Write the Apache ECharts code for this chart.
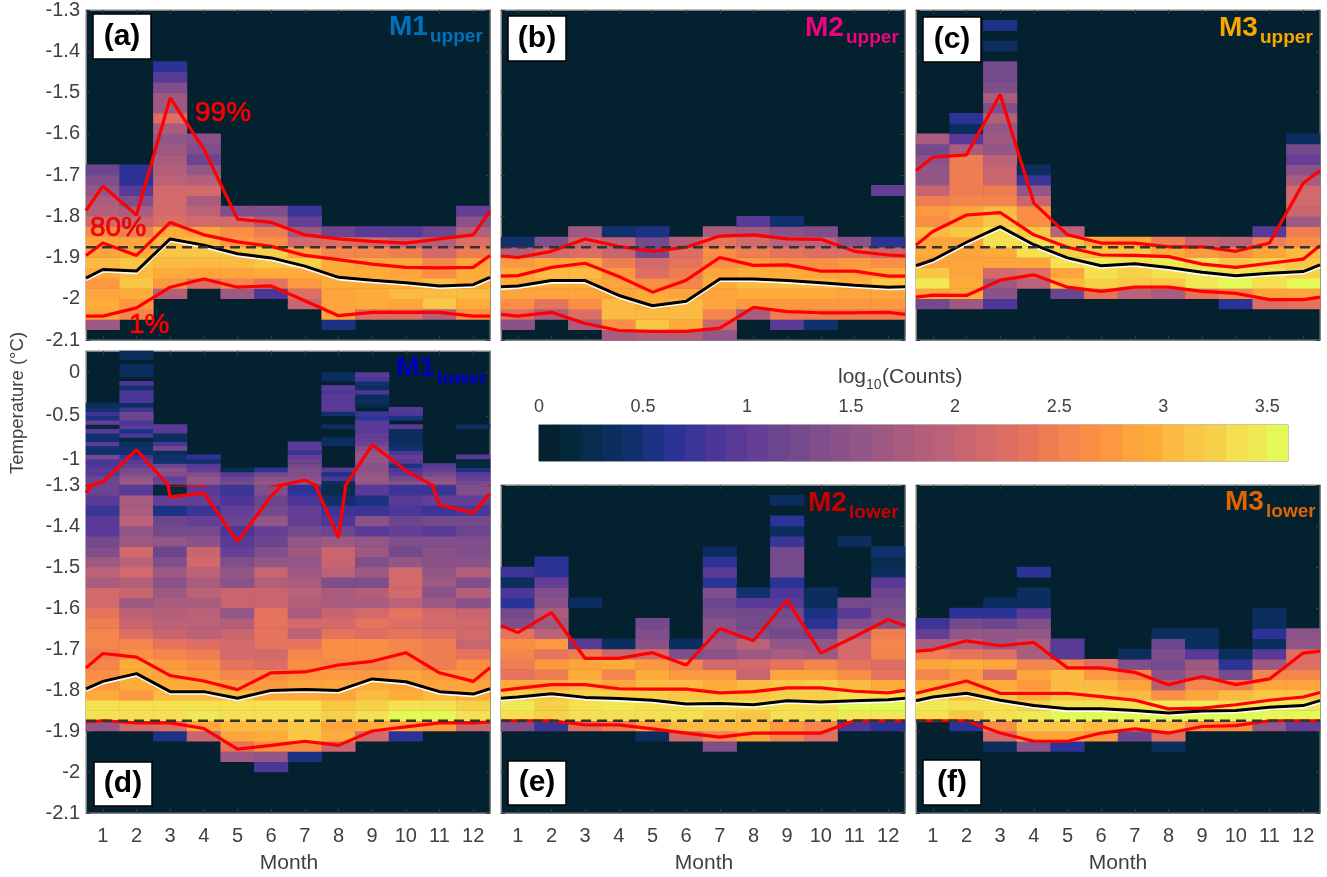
<!DOCTYPE html>
<html><head><meta charset="utf-8">
<style>html,body{margin:0;padding:0;background:#fff}#c{width:1327px;height:877px}</style>
<script src="https://cdn.jsdelivr.net/npm/echarts@6/dist/echarts.min.js"></script>
</head><body><div id="c"></div>
<script>
// ---------- axes / categories ----------
const months = [1,2,3,4,5,6,7,8,9,10,11,12];
const lineX = [0.5,1,2,3,4,5,6,7,8,9,10,11,12,12.5];
const tempTicks = [-2.1,-2,-1.9,-1.8,-1.7,-1.6,-1.5,-1.4,-1.3];
const brokenTicks = [-1,-0.5,0];
const cbarTicks = [0,0.5,1,1.5,2,2.5,3,3.5];
const freezingX = [0.5,12.5];
const freezingT = [-1.875,-1.875];
const cbarLevels = [0,1,2,3,4,5,6,7,8,9,10,11,12,13,14,15,16,17,18,19,20,21,22,23,24,25,26,27,28,29,30,31,32,33,34,35];
const palette = ['#03212F','#04283C','#072C4E','#0B2E5E','#10306E','#1B3382','#2C3396','#3B3595','#4C3799','#5A3A97','#653F95','#6C458F','#744A8D','#7F4E8B','#8A5289','#925687','#9E5983','#A95C7E','#B35F7A','#BC6278','#C8656F','#D26A6C','#DC6E64','#E6735C','#EE7D52','#F4854C','#F98E44','#FC9840','#FEA43C','#FDAC3A','#FBBA42','#F9C646','#F7D04A','#F4E050','#F1E856','#E4F858'];

// ---------- counts: log10(counts) in tenths, per month, bottom bin upward ----------
const aStart = [1,2,4,5,4,4,3,1,2,2,2,2];
const aCounts = [
 [16,28,29,28,27,29,30,28,28,26,21,18,17,15,13,11],
 [25,27,29,31,30,31,29,28,24,20,17,13,9,6,6],
 [18,27,29,30,31,30,29,22,21,21,21,19,18,17,16,15,17,22,16,16,13,9,6],
 [22,28,30,31,30,28,21,19,17,21,18,15,11,13,14],
 [16,25,28,30,31,27,26,21,13],
 [8,23,29,31,32,26,24,17,13],
 [20,22,27,29,32,28,21,16,10,7],
 [5,28,28,28,29,29,29,25,22,11],
 [22,29,29,29,29,28,25,21,9],
 [22,28,30,29,28,28,24,19,9],
 [18,31,30,30,26,25,21,18,11],
 [26,29,30,29,29,28,24,22,18,14,10]];
const bStart = [1,2,1,0,0,0,0,2,1,1,2,2];
const bCounts = [
 [14,22,26,28,29,29,27,18,4],
 [17,23,28,29,30,28,21,13],
 [17,22,26,28,29,30,28,22,20,16],
 [17,26,30,30,28,28,27,24,20,19,4],
 [18,31,30,29,29,26,22,21,12,12,5],
 [18,29,30,30,28,25,24,23,22,18],
 [15,20,25,28,28,29,28,26,26,23,17],
 [17,27,29,30,29,27,24,21,16,9],
 [9,24,27,29,30,29,26,23,19,14,4],
 [4,24,27,29,30,28,26,22,19,13],
 [24,27,28,29,28,27,22,14],
 [24,27,28,31,29,26,20,6,0,0,0,0,10]];
const cStart = [3,3,3,5,4,4,4,4,4,3,3,3];
const cCounts = [
 [12,28,34,31,28,29,28,30,26,27,24,20,15,15,14,12,17],
 [16,29,29,28,28,28,28,31,29,28,25,24,24,24,24,17,9,3,6],
 [8,14,16,21,28,29,33,33,31,30,25,24,20,20,19,15,16,15,18,13,17,13,12,12,0,3,0,5],
 [19,22,28,33,33,31,26,26,20,15,7,3],
 [11,30,28,33,32,31,19],
 [23,32,33,34,31,29],
 [19,31,32,33,31,28],
 [17,31,33,34,29,24],
 [23,34,34,33,27,20],
 [6,25,35,33,31,26,19],
 [22,28,33,33,32,28,24,9],
 [23,28,35,32,31,30,26,24,16,20,21,21,17,14,10,12,3]];
const dLowStart = [8,8,7,7,5,4,5,6,7,7,8,8];
const dLowCounts = [
 [15,33,33,29,27,26,25,24,25,25,24,23,21,21,17,19,16,13,12,9,9,7,9,11],
 [21,33,33,27,29,29,29,26,25,22,20,19,16,20,18,21,19,21,16,15,19,17,17,9],
 [5,22,33,33,30,29,28,27,25,23,20,19,18,17,16,14,16,13,11,15,12,11,5,10,1],
 [20,28,34,33,30,29,27,26,24,22,19,19,19,17,19,17,19,21,20,14,12,10,7,10,9],
 [16,23,28,30,33,33,30,27,25,23,21,21,20,18,15,20,20,14,15,13,10,9,8,11,10,8,7],
 [8,15,26,29,30,33,33,29,27,26,22,21,23,23,23,23,20,20,18,20,15,13,11,10,15,12,11,13],
 [5,26,31,31,33,33,29,28,27,26,25,23,19,21,17,18,19,17,16,15,16,15,12,10,10,8,6],
 [20,29,28,32,31,28,28,27,25,26,26,23,21,20,17,17,13,19,20,20,16,11,8,7,4,2],
 [21,29,33,32,30,29,27,25,26,26,22,23,21,17,18,13,16,13,16,15,9,14,7,5,9],
 [6,28,35,33,29,28,28,26,25,25,23,22,23,19,21,21,21,15,12,13,10,11,8,9,7],
 [27,35,33,30,28,27,24,24,24,22,21,21,16,14,16,15,14,14,13,9,12,7,10,7],
 [20,33,32,29,28,27,26,23,20,21,21,20,14,18,13,18,14,13,13,11,12,8,10,13]];
const dTopStart = [0,0,0,0,0,0,0,0,0,0,0,0];
const dTopCounts = [
 [11,11,9,9,8,8,12,4,4,9,4,4,9,1,10,5,7,4,3],
 [16,15,13,12,10,9,7,4,4,3,1,8,5,9,8,11,11,7,3,8,8,8,4,8,0,3,3,3,0,3,3],
 [11,10,13,14,11,4,4,3,12,8,3,3,9,9],
 [15,15,13,10,9,4,6],
 [12,11,9,2],
 [15,14,12,6],
 [15,14,13,13,12,11,10,7,9,9],
 [3,8,5,9,0,0,0,0,0,3,3,0,0,3,0,0,4,9,9,9,9,8,9,0,3,3],
 [15,16,15,14,14,15,15,15,13,11,10,10,9,9,9,6,7,0,2,3,3,8,3,4,8,9],
 [14,12,9,8,5,9,10,8,4,3,3,3,3,9,0,5,8,9],
 [15,14,12,10,9],
 [12,10,9,5,1,1,9,0,0,0,0,0,0,3]];
const eStart = [8,8,8,8,7,7,6,7,7,7,8,8];
const eCounts = [
 [13,33,34,32,29,23,24,25,26,23,13,12,6,8,3,7],
 [7,32,32,31,29,24,27,23,27,19,16,17,14,13,10,6,6],
 [22,33,33,32,30,29,28,24,9,0,0,0,3],
 [24,33,34,32,28,25,29,20,3],
 [3,28,33,33,32,30,29,27,21,14,13,12],
 [21,30,33,33,31,30,27,25,13,3],
 [13,25,30,32,33,31,29,27,21,14,16,14,14,12,11,13,6,9,6,3],
 [28,30,31,33,31,30,20,21,16,19,13,12,12,9,4],
 [25,27,33,33,32,31,28,23,17,15,12,13,12,9,8,6,12,12,12,7,3,6,0,3],
 [22,25,33,33,32,32,28,25,16,15,11,6,5,3,3],
 [8,34,35,33,30,26,23,21,21,18,13,9,12,0,0,0,0,0,3],
 [6,34,35,33,29,23,22,25,25,24,14,13,12,11,9,3,2,4]];
const fStart = [9,8,6,6,6,7,7,6,8,8,8,8];
const fCounts = [
 [33,34,32,29,25,28,24,17,10,7],
 [6,31,33,30,29,27,29,23,18,15,12,6],
 [3,21,26,33,33,31,29,22,28,22,15,15,11,6,3],
 [14,28,31,34,32,29,27,28,25,17,17,15,13,9,3,3,0,6],
 [6,28,31,35,33,31,30,30,25,9,9],
 [27,30,35,33,31,30,27,22],
 [11,31,35,33,30,28,25,13,3],
 [3,22,30,35,34,26,18,14,12,13,11,3],
 [26,35,34,28,25,17,16,9,3,3],
 [26,35,33,30,24,12,6,3],
 [15,35,34,31,28,25,16,9,3,6,3,3],
 [10,35,34,31,28,25,22,22,15,14]];

// ---------- percentile curves (°C) at lineX ----------
const a99 = [-1.786,-1.727,-1.797,-1.513,-1.637,-1.807,-1.815,-1.845,-1.855,-1.861,-1.865,-1.855,-1.845,-1.788];
const a80 = [-1.895,-1.865,-1.895,-1.815,-1.845,-1.862,-1.873,-1.895,-1.905,-1.916,-1.924,-1.925,-1.924,-1.895];
const a50 = [-1.950,-1.929,-1.933,-1.855,-1.870,-1.891,-1.901,-1.921,-1.948,-1.955,-1.961,-1.969,-1.966,-1.948];
const a01 = [-2.042,-2.042,-2.022,-1.972,-1.952,-1.972,-1.969,-2.005,-2.041,-2.033,-2.033,-2.033,-2.042,-2.042];
const b99 = [-1.896,-1.900,-1.885,-1.855,-1.873,-1.885,-1.875,-1.848,-1.845,-1.855,-1.856,-1.885,-1.894,-1.896];
const b80 = [-1.945,-1.944,-1.924,-1.914,-1.946,-1.984,-1.955,-1.900,-1.919,-1.918,-1.933,-1.933,-1.945,-1.945];
const b50 = [-1.971,-1.969,-1.956,-1.956,-1.992,-2.017,-2.006,-1.952,-1.952,-1.956,-1.961,-1.967,-1.972,-1.971];
const b01 = [-2.038,-2.042,-2.033,-2.060,-2.077,-2.079,-2.079,-2.071,-2.021,-2.031,-2.034,-2.034,-2.033,-2.038];
const c99 = [-1.689,-1.657,-1.651,-1.505,-1.768,-1.845,-1.865,-1.865,-1.874,-1.874,-1.885,-1.865,-1.720,-1.689];
const c80 = [-1.870,-1.837,-1.797,-1.791,-1.845,-1.875,-1.894,-1.895,-1.898,-1.916,-1.924,-1.914,-1.904,-1.871];
const c50 = [-1.920,-1.906,-1.863,-1.825,-1.869,-1.901,-1.920,-1.915,-1.924,-1.936,-1.944,-1.938,-1.934,-1.918];
const c01 = [-1.996,-1.991,-1.992,-1.955,-1.942,-1.972,-1.982,-1.972,-1.972,-1.982,-1.987,-2.002,-2.002,-1.996];
const d99 = [-1.319,-1.264,-0.894,-1.329,-1.319,-1.438,-1.327,-1.244,-1.428,-0.835,-1.133,-1.348,-1.368,-1.321];
const d80 = [-1.746,-1.711,-1.720,-1.765,-1.778,-1.799,-1.758,-1.756,-1.739,-1.730,-1.709,-1.758,-1.779,-1.746];
const d50 = [-1.797,-1.779,-1.760,-1.804,-1.804,-1.820,-1.801,-1.799,-1.801,-1.773,-1.780,-1.804,-1.810,-1.797];
const d01 = [-1.878,-1.875,-1.880,-1.880,-1.894,-1.944,-1.935,-1.925,-1.935,-1.900,-1.890,-1.880,-1.880,-1.878];
const e99 = [-1.643,-1.660,-1.611,-1.723,-1.723,-1.709,-1.739,-1.650,-1.680,-1.581,-1.710,-1.670,-1.628,-1.643];
const e80 = [-1.801,-1.796,-1.787,-1.787,-1.797,-1.798,-1.798,-1.807,-1.804,-1.795,-1.795,-1.803,-1.807,-1.801];
const e50 = [-1.820,-1.817,-1.809,-1.818,-1.821,-1.825,-1.834,-1.833,-1.836,-1.826,-1.829,-1.826,-1.824,-1.820];
const e01 = [-1.875,-1.875,-1.875,-1.885,-1.885,-1.895,-1.905,-1.915,-1.905,-1.905,-1.905,-1.875,-1.875,-1.875];
const f99 = [-1.705,-1.702,-1.680,-1.692,-1.684,-1.746,-1.746,-1.757,-1.787,-1.767,-1.787,-1.773,-1.710,-1.705];
const f80 = [-1.808,-1.798,-1.778,-1.808,-1.808,-1.808,-1.816,-1.825,-1.846,-1.844,-1.836,-1.825,-1.817,-1.806];
const f50 = [-1.826,-1.817,-1.808,-1.825,-1.838,-1.846,-1.846,-1.850,-1.856,-1.851,-1.850,-1.842,-1.838,-1.826];
const f01 = [-1.875,-1.875,-1.875,-1.905,-1.925,-1.925,-1.905,-1.895,-1.905,-1.889,-1.887,-1.875,-1.875,-1.875];

// ---------- build ----------
const FONT = '"Liberation Sans", Arial, sans-serif';
const TXT = '#404040', BG = palette[0];
const grid = [], xAxis = [], yAxis = [], series = [], heatIdx = [];

function addPanel(p) {
  const gi = grid.length;
  grid.push({left:p.l, top:p.t, width:p.w, height:p.h, show:true, backgroundColor:BG, borderColor:'#808080', borderWidth:1, containLabel:false});
  const bx = xAxis.length, by = yAxis.length;
  const tick = {inside:true, length:4, lineStyle:{color:'#3a3a3a', width:1}};
  const line = {show:true, onZero:false, lineStyle:{color:'#808080', width:1}};
  xAxis.push({type:'category', gridIndex:gi, show:false, position:'bottom', data:months});
  xAxis.push({type:'value', gridIndex:gi, position:'bottom', min:0.5, max:12.5, splitLine:{show:false},
    axisLine:p.xLine||line,
    axisTick:{...tick, customValues:months},
    axisLabel:{show:!!p.xLabels, customValues:months, margin:13, fontFamily:FONT, fontSize:20, color:TXT, formatter:v=>String(v)}});
  xAxis.push({type:'value', gridIndex:gi, position:'top', min:0.5, max:12.5, splitLine:{show:false},
    axisLine:p.topLine||line, axisTick:{...tick, customValues:months}, axisLabel:{show:false}});
  const nBins = Math.round((p.ymax-p.ymin)/p.bin);
  yAxis.push({type:'category', gridIndex:gi, show:false, position:'left', data:Array.from({length:nBins},(_,i)=>i)});
  yAxis.push({type:'value', gridIndex:gi, position:'left', min:p.ymin, max:p.ymax, splitLine:{show:false},
    axisLine:line, axisTick:{...tick, customValues:p.ticks},
    axisLabel:{show:!!p.yLabels, customValues:p.labels||p.ticks, margin:6, fontFamily:FONT, fontSize:20, color:TXT, formatter:v=>String(v)}});
  yAxis.push({type:'value', gridIndex:gi, position:'right', min:p.ymin, max:p.ymax, splitLine:{show:false},
    axisLine:line, axisTick:{...tick, customValues:p.ticks}, axisLabel:{show:false}});
  const cells = [];
  p.counts.forEach((col,m)=>col.forEach((v,k)=>{ if (v>0) cells.push([m, p.start[m]+k, v/10]); }));
  heatIdx.push(series.length);
  series.push({type:'heatmap', xAxisIndex:bx, yAxisIndex:by, data:cells, progressive:0, silent:true});
  const ln = (arr, style) => series.push({type:'line', xAxisIndex:bx+1, yAxisIndex:by+1, symbol:'none', clip:true, silent:true,
    data:lineX.map((x,i)=>[x,arr[i]]), lineStyle:style});
  const red = {color:'#FF0000', width:3.2};
  ln(p.q99, red);
  if (p.q80) ln(p.q80, red);
  if (p.q50) ln(p.q50, {color:'#000', width:3, shadowColor:'#ffffff', shadowBlur:0, shadowOffsetY:1.6});
  if (p.q01) ln(p.q01, red);
  if (p.dash) series.push({type:'line', xAxisIndex:bx+1, yAxisIndex:by+1, symbol:'none', silent:true,
    data:freezingX.map((x,i)=>[x,freezingT[i]]), lineStyle:{color:'#333', width:2.6, type:[10,6]}});
}
const L = [86,501,916], W = 404, TH = 330;
const lower = {ymin:-2.1, ymax:-1.3, bin:0.025, ticks:tempTicks, dash:true};
addPanel({...lower, l:L[0], t:10, w:W, h:TH, yLabels:true, start:aStart, counts:aCounts, q99:a99, q80:a80, q50:a50, q01:a01});
addPanel({...lower, l:L[1], t:10, w:W, h:TH, start:bStart, counts:bCounts, q99:b99, q80:b80, q50:b50, q01:b01});
addPanel({...lower, l:L[2], t:10, w:W, h:TH, start:cStart, counts:cCounts, q99:c99, q80:c80, q50:c50, q01:c01});
addPanel({l:L[0], t:351, w:W, h:134, ymin:-1.3, ymax:0.25, bin:0.05, ticks:brokenTicks, yLabels:true,
  xLine:{show:true, onZero:false, lineStyle:{color:'#333', width:1}}, start:dTopStart, counts:dTopCounts, q99:d99});
addPanel({...lower, l:L[0], t:485, w:W, h:328, yLabels:true, xLabels:true, start:dLowStart, counts:dLowCounts, q99:d99, q80:d80, q50:d50, q01:d01,
  topLine:{show:true, onZero:false, lineStyle:{color:'#333', width:1}}});
addPanel({...lower, l:L[1], t:485, w:W, h:328, xLabels:true, start:eStart, counts:eCounts, q99:e99, q80:e80, q50:e50, q01:e01});
addPanel({...lower, l:L[2], t:485, w:W, h:328, xLabels:true, start:fStart, counts:fCounts, q99:f99, q80:f80, q50:f50, q01:f01});

// colour bar
{
  const gi = grid.length;
  grid.push({left:539, top:425, width:749, height:36, show:true, backgroundColor:BG, borderColor:'#808080', borderWidth:1});
  const bx = xAxis.length, by = yAxis.length;
  xAxis.push({type:'category', gridIndex:gi, show:false, position:'bottom', data:cbarLevels});
  yAxis.push({type:'category', gridIndex:gi, show:false, data:['c']});
  xAxis.push({type:'value', gridIndex:gi, position:'top', min:0, max:3.6, splitLine:{show:false},
    axisLine:{show:true, lineStyle:{color:'#808080'}},
    axisTick:{inside:true, length:7, customValues:cbarTicks, lineStyle:{color:'#333'}},
    axisLabel:{customValues:cbarTicks, margin:9, fontFamily:FONT, fontSize:18, color:TXT, formatter:v=>String(v)}});
  heatIdx.push(series.length);
  series.push({type:'heatmap', xAxisIndex:bx, yAxisIndex:by, silent:true, data:cbarLevels.map(l=>[l,0,l/10])});
}

// text overlays
const T = (text,x,y,fill,font,extra) => ({type:'text', z:50, x, y, ...(extra||{}),
  style:{text, fill, font, textAlign:(extra&&extra.al)||'left', textVerticalAlign:'middle', align:(extra&&extra.al)||'left', verticalAlign:'middle',
    stroke:(extra&&extra.sk)||undefined, lineWidth:(extra&&extra.sk)?0.7:0}});
const box = (label,x0,y0,x1,y1) => [
  {type:'rect', z:49, shape:{x:x0,y:y0,width:x1-x0,height:y1-y0}, style:{fill:'#fff', stroke:'#000', lineWidth:1.5}},
  T(label,(x0+x1)/2,(y0+y1)/2,'#000','bold 30px '+FONT,{al:'center'})];
const tag = (big,sub,x,y,xs,ys,col) => [
  T(big,x,y,col,'bold 28px '+FONT), T(sub,xs,ys,col,'bold 19px '+FONT)];
const REG = n => n+'px '+FONT;
const graphic = [
  ...box('(a)',93,14,151,59), ...box('(b)',508,16,566,61), ...box('(c)',923,17,981,62),
  ...box('(d)',94,762,152,806), ...box('(e)',508,761,566,805), ...box('(f)',923,760,981,805),
  ...tag('M1','upper',389,27,430,37,'#0072BD'),
  ...tag('M2','upper',805,28,846,38,'#F0047F'),
  ...tag('M3','upper',1219,28,1260,38,'#F9A800'),
  ...tag('M1','lower',396,368,437,379,'#0000C0'),
  ...tag('M2','lower',808,503,849,513,'#C80000'),
  ...tag('M3','lower',1225,502,1266,512,'#E06400'),
  T('99%',195,113,'#FF0000',REG(28),{sk:'#E00000'}), T('80%',90,228,'#FF0000',REG(28),{sk:'#B00000'}), T('1%',129,325,'#FF0000',REG(28),{sk:'#E00000'}),
  T('Month',289,863,TXT,REG(21),{al:'center'}), T('Month',704,863,TXT,REG(21),{al:'center'}), T('Month',1118,863,TXT,REG(21),{al:'center'}),
  T('Temperature (°C)',18,403,TXT,REG(18.5),{al:'center', rotation:Math.PI/2}),
  T('log',838,377,TXT,REG(21)), T('10',866,385,TXT,REG(14)), T('(Counts)',882,377,TXT,REG(21))
];

const pieces = cbarLevels.map(l=> l===35 ? {gte:3.5, color:palette[l]} : {gte:l/10, lt:(l+1)/10, color:palette[l]});
const chart = echarts.init(document.getElementById('c'), null, {width:1327, height:877});
chart.setOption({animation:false, backgroundColor:'#fff', grid, xAxis, yAxis, series, graphic,
  visualMap:{type:'piecewise', show:false, dimension:2, seriesIndex:heatIdx, pieces}});
</script></body></html>
